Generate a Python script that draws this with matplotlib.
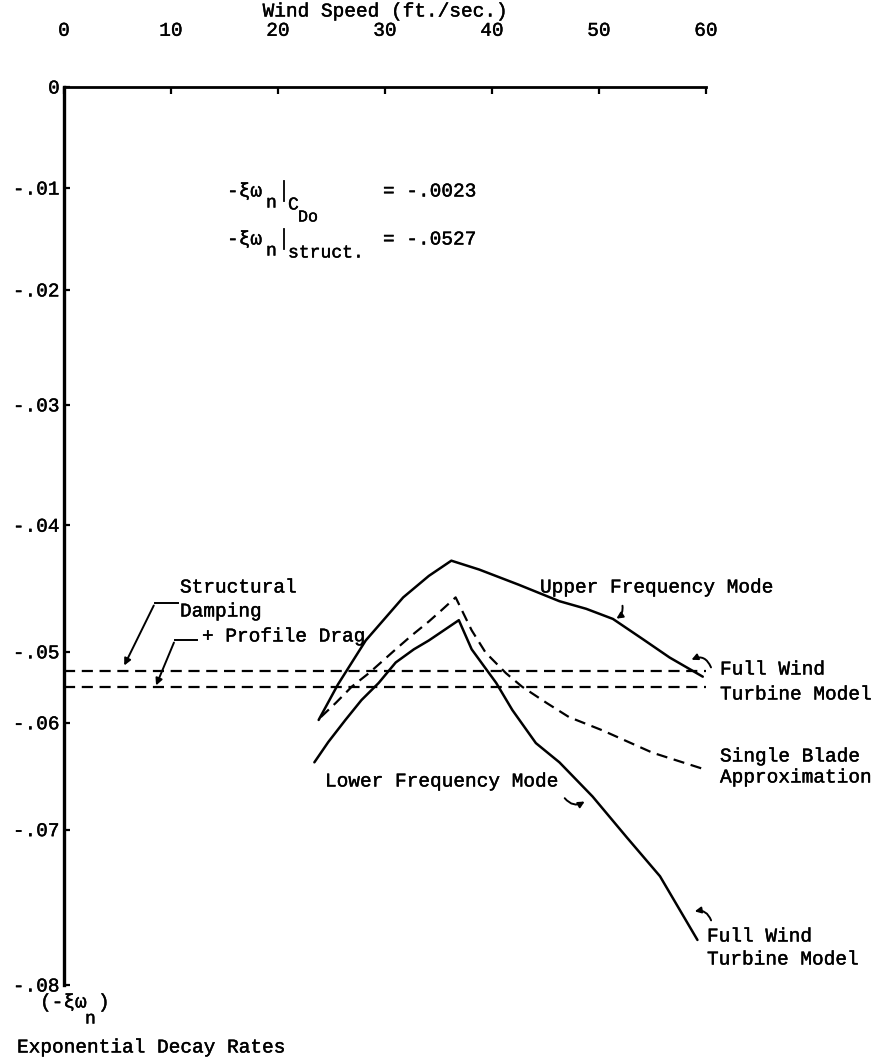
import numpy as np
import matplotlib.pyplot as plt
import matplotlib.patheffects as pe
from matplotlib.lines import Line2D
from matplotlib.patches import FancyArrowPatch

# decay rates (-xi*omega_n) against wind speed (ft/sec)
upper_x = [23.8, 25.6, 28.2, 31.7, 34.1, 36.2, 38.8, 42.5, 46.3, 48.8, 51.3, 54.1,
           56.6, 59.7]
upper_y = [-0.0596, -0.0546, -0.0491, -0.0457, -0.0440, -0.0428, -0.0435, -0.0447,
           -0.0460, -0.0466, -0.0474, -0.0490, -0.0508, -0.0535]

single_x = [24.0, 25.4, 26.9, 28.5, 31.0, 32.5, 34.1, 35.3, 36.6, 38.1, 39.4, 41.3,
            42.8, 45.1, 47.2, 50.3, 55.0, 60.0]
single_y = [-0.0592, -0.0572, -0.0549, -0.0530, -0.0498, -0.0487, -0.0476, -0.0467,
            -0.0457, -0.0483, -0.0501, -0.0530, -0.0549, -0.0572, -0.0592, -0.0607,
            -0.0628, -0.0644]

lower_x = [23.4, 24.7, 26.3, 27.8, 29.4, 31.0, 32.7, 34.1, 35.5, 36.9, 38.1, 40.4,
           41.9, 44.1, 46.3, 49.4, 52.6, 55.7, 59.2]
lower_y = [-0.0637, -0.0618, -0.0596, -0.0568, -0.0544, -0.0515, -0.0498, -0.0491,
           -0.0483, -0.0475, -0.0498, -0.0544, -0.0582, -0.0619, -0.0637, -0.0669,
           -0.0705, -0.0730, -0.0771]

struct_rate = -0.0527
drag_rate = -0.0023

x_ticks = [0, 10, 20, 30, 40, 50, 60]
y_ticks = [0, -0.01, -0.02, -0.03, -0.04, -0.05, -0.06, -0.07, -0.08]
y_labels = ['0', '-.01', '-.02', '-.03', '-.04', '-.05', '-.06', '-.07', '-.08']

# the y axis was ruled by hand: tick spacing is uneven, so keep where each tick sits
tick_depth = [0.0, 0.1125, 0.226, 0.354, 0.488, 0.629, 0.708, 0.827, 1.0]

plt.rcParams['font.family'] = ['Liberation Mono', 'DejaVu Sans']
FS = 14
ink = [pe.withStroke(linewidth=0.3, foreground='black')]

W, H = 882, 1061
fig = plt.figure(figsize=(W / 100, H / 100), dpi=100)


def px(x, y):
    return x / W, 1 - y / H


L, R, T, B = 64, 706, 87, 985
ax = fig.add_axes([L / W, 1 - B / H, (R - L) / W, (B - T) / H])

depths = -np.array(y_ticks)


def fwd(v):
    return -np.interp(-np.asarray(v, dtype=float), depths, tick_depth)


def inv(u):
    return -np.interp(-np.asarray(u, dtype=float), tick_depth, depths)


ax.set_yscale('function', functions=(fwd, inv))
ax.set_xlim(0, 60)
ax.set_ylim(-0.08, 0)

ax.plot(upper_x, upper_y, color='black', lw=1.8, solid_capstyle='round', solid_joinstyle='round')
ax.plot(lower_x, lower_y, color='black', lw=1.8, solid_capstyle='round', solid_joinstyle='round')
ax.plot(single_x, single_y, color='black', lw=1.6, dashes=(5, 3))
ax.plot([0, 60], [struct_rate, struct_rate], color='black', lw=1.6, dashes=(5, 3))
ax.plot([0, 60], [struct_rate + drag_rate, struct_rate + drag_rate],
        color='black', lw=1.6, dashes=(5, 3))

for s in ['right', 'bottom']:
    ax.spines[s].set_visible(False)
ax.spines['left'].set_linewidth(2.4)
ax.spines['top'].set_linewidth(2.0)

ax.xaxis.tick_top()
ax.set_xticks(x_ticks)
ax.set_xticklabels([str(v) for v in x_ticks])
ax.set_yticks(y_ticks)
ax.set_yticklabels(y_labels)
ax.tick_params(axis='x', direction='in', length=5, width=1.6, pad=34, labelsize=FS)
ax.tick_params(axis='y', direction='in', length=4, width=1.6, pad=3, labelsize=FS)
ax.minorticks_off()
for lab in ax.get_xticklabels() + ax.get_yticklabels():
    lab.set_path_effects(ink)


def put(x, y, s, size=FS, ha='left'):
    fig.text(*px(x, y), s, ha=ha, va='center', fontsize=size, path_effects=ink)


def bar(x, y0, y1):
    fig.add_artist(Line2D([px(x, y0)[0]] * 2, [px(x, y0)[1], px(x, y1)[1]],
                          color='black', lw=1.3, transform=fig.transFigure))


put(386, 12, 'Wind Speed (ft./sec.)', ha='center')

# damping values quoted on the chart
put(227, 192, '-ξω')
put(266, 203, 'n', 13)
bar(284, 181, 201)
put(288, 205, 'C', 13)
put(298, 217, 'Do', 12)
put(383, 192, '= -.0023')

put(227, 240, '-ξω')
put(266, 251, 'n', 13)
bar(284, 229, 249)
put(288, 253, 'struct.', 13)
put(383, 240, '= -.0527')

put(40, 1003, '(-ξω')
put(85, 1019, 'n', 13)
put(98, 1003, ')')
put(17, 1048, 'Exponential Decay Rates')

labels = [
    (180, 588, 'Structural'),
    (180, 612, 'Damping'),
    (202, 637, '+ Profile Drag'),
    (540, 588, 'Upper Frequency Mode'),
    (720, 670, 'Full Wind'),
    (720, 695, 'Turbine Model'),
    (720, 757, 'Single Blade'),
    (720, 778, 'Approximation'),
    (325, 782, 'Lower Frequency Mode'),
    (707, 937, 'Full Wind'),
    (707, 960, 'Turbine Model'),
]
for x, y, s in labels:
    put(x, y, s)


def leader(pts):
    xs = [px(*p)[0] for p in pts]
    ys = [px(*p)[1] for p in pts]
    fig.add_artist(Line2D(xs[:-1], ys[:-1], color='black', lw=1.4,
                          transform=fig.transFigure))
    fig.add_artist(FancyArrowPatch((xs[-2], ys[-2]), (xs[-1], ys[-1]),
                                   transform=fig.transFigure, arrowstyle='-|>',
                                   mutation_scale=10, color='black', lw=1.4))


leader([(178, 603), (155, 603), (123, 668)])
leader([(197, 640), (175, 640), (155, 688)])


def hook(a, b, rad):
    fig.add_artist(FancyArrowPatch(px(*a), px(*b), transform=fig.transFigure,
                                   connectionstyle=f'arc3,rad={rad}',
                                   arrowstyle='-|>', mutation_scale=9,
                                   color='black', lw=1.4))


hook((622, 603), (614, 620), -0.4)
hook((712, 670), (689, 661), 0.6)
hook((563, 796), (587, 800), 0.5)
hook((712, 923), (692, 912), 0.5)

fig.savefig('out.png', dpi=100)
